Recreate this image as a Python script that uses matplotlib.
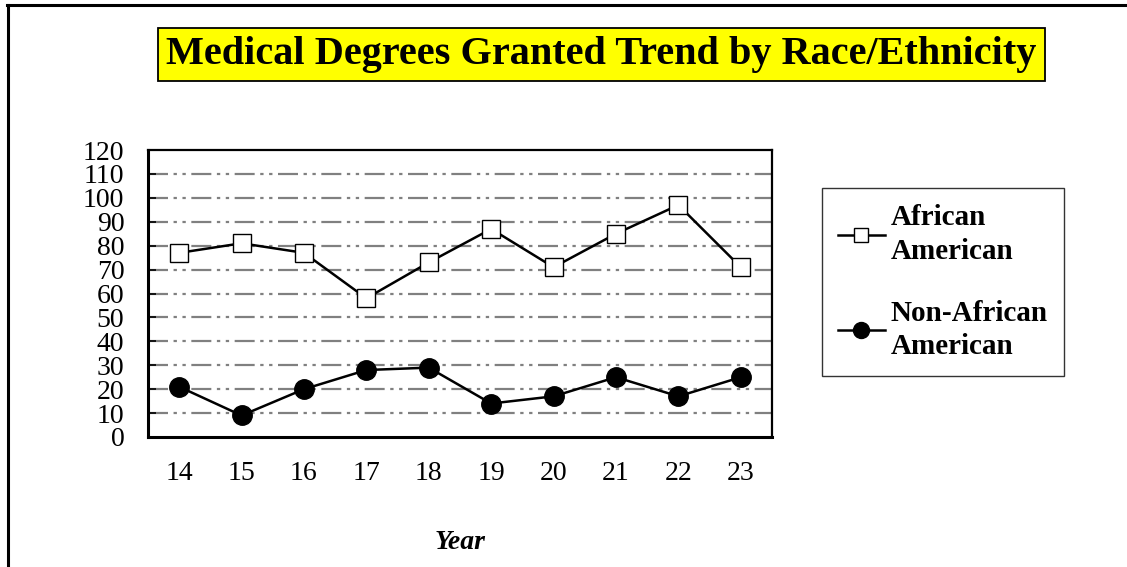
import matplotlib
matplotlib.use("Agg")
import matplotlib.pyplot as plt
from matplotlib.lines import Line2D

plt.rcParams['font.family'] = ['Liberation Serif', 'DejaVu Serif']

# data
years = ["14", "15", "16", "17", "18", "19", "20", "21", "22", "23"]
african_american = [77, 81, 77, 58, 73, 87, 71, 85, 97, 71]
non_african_american = [21, 9, 20, 28, 29, 14, 17, 25, 17, 25]
y_ticks = list(range(0, 121, 10))

fig = plt.figure(figsize=(11.27, 5.67), dpi=100)
ax = fig.add_axes([0.1313, 0.2293, 0.5537, 0.5061])

x = list(range(len(years)))
ax.plot(x, african_american, color="black", lw=1.8, marker="s", ms=13.5,
        mfc="white", mec="black", mew=1.0, zorder=3)
ax.plot(x, non_african_american, color="black", lw=1.8, marker="o", ms=14,
        mfc="black", mec="black", zorder=3)

ax.set_xlim(-0.5, len(years) - 0.5)
ax.set_ylim(0, 120)
ax.set_yticks(y_ticks)
ax.set_xticks(x)
ax.set_xticklabels(years)

# dash-dot-dot gridlines between 10 and 110
for v in y_ticks[1:-1]:
    ax.axhline(v, color="#808080", lw=1.6, dashes=(9, 2.5, 1.5, 2.5, 1.5, 2.5), zorder=1)

for s in ax.spines.values():
    s.set_color("black")
    s.set_linewidth(1.6)
ax.spines["left"].set_linewidth(2.2)
ax.spines["bottom"].set_linewidth(2.2)

ax.tick_params(axis="y", direction="in", length=6, width=1.2, pad=17, labelsize=20)
ax.tick_params(axis="x", length=0, pad=17, labelsize=20)

fig.text(0.408, 0.043, "Year", ha="center", va="center", fontsize=20,
         fontweight="bold", fontstyle="italic")

fig.text(0.5337, 0.904, "Medical Degrees Granted Trend by Race/Ethnicity",
         ha="center", va="center", fontsize=29, fontweight="bold",
         bbox=dict(boxstyle="square,pad=0.2", fc="yellow", ec="black", lw=1.3))

handles = [
    Line2D([], [], color="black", lw=1.8, marker="s", ms=10, mfc="white", mec="black", mew=1.0),
    Line2D([], [], color="black", lw=1.8, marker="o", ms=11.5, mfc="black", mec="black"),
]
leg = fig.legend(handles, ["African\nAmerican", "Non-African\nAmerican"],
                 loc="upper left", bbox_to_anchor=(0.7294, 0.668),
                 prop=dict(size=21, weight="bold"), frameon=True, fancybox=False,
                 handlelength=1.6, handletextpad=0.2, labelspacing=1.2,
                 borderpad=0.55, borderaxespad=0)
for t in leg.get_texts():
    t.set_linespacing(1.3)
leg.get_frame().set_edgecolor("black")
leg.get_frame().set_linewidth(1.0)

# figure border on the left and top
fig.add_artist(Line2D([0.007, 0.007], [0, 0.992], color="black", lw=2.2))
fig.add_artist(Line2D([0.006, 1.0], [0.991, 0.991], color="black", lw=2.2))

fig.savefig("out.png", dpi=100)
